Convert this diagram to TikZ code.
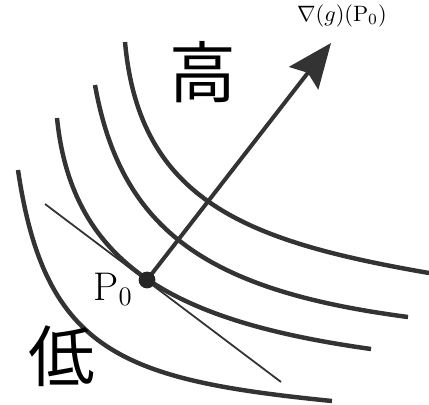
\documentclass[tikz,border=0pt]{standalone}
\usepackage{amsmath,amssymb}
\usepackage{fontspec}
\newfontfamily\cjkfont{Noto Sans CJK JP}
\usetikzlibrary{arrows.meta,positioning}

\begin{document}
\begin{tikzpicture}[scale=0.6325, >={Stealth[length=20pt,width=16.5pt,inset=3pt]},
  level/.style={line width=2pt, black!80},
  every node/.style={inner sep=0pt}]
  \useasboundingbox (0,0) rectangle (10.725,10.1);

  % level curves
  \draw[level] (3.125,9.05) .. controls (3.485,5.065) and (6.175,4.0625) .. (10.725,3.275);
  \draw[level] (2.375,7.975) .. controls (3.035,4.285) and (5.25,2.825) .. (10.2,2.175);
  \draw[level] (1.425,7.15) .. controls (1.8,3.425) and (4.45,2.05) .. (9.275,1.375);
  \draw[level] (0.45,5.85) .. controls (1.125,1.275) and (3.075,0.6) .. (8.3,0.075);

  \coordinate (P0) at (3.675,3.1);
  \coordinate (tanA) at (1.125,5.0);
  \coordinate (tanB) at (7.025,0.55);
  \coordinate (tip) at (8.275,9.025);

  % tangent and gradient
  \draw[line width=0.8pt, black!80] (tanA) -- (tanB);
  \draw[->, line width=1.8pt, black!80] (P0) -- (tip);
  \fill[black!85] (P0) circle (0.21);

  \node (grad) at (8.55,9.7) {$\nabla(g)(\mathrm{P}_0)$};
  \node[anchor=base west, font=\fontsize{18}{20}\selectfont] (p0lab) at (2.325,2.6) {$\mathrm{P}_0$};
  \node[font=\cjkfont\fontsize{30}{30}\selectfont] (high) at (5.075,8.3) {高};
  \node[font=\cjkfont\fontsize{30}{30}\selectfont] (low) at (1.55,1.2) {低};
\end{tikzpicture}
\end{document}
